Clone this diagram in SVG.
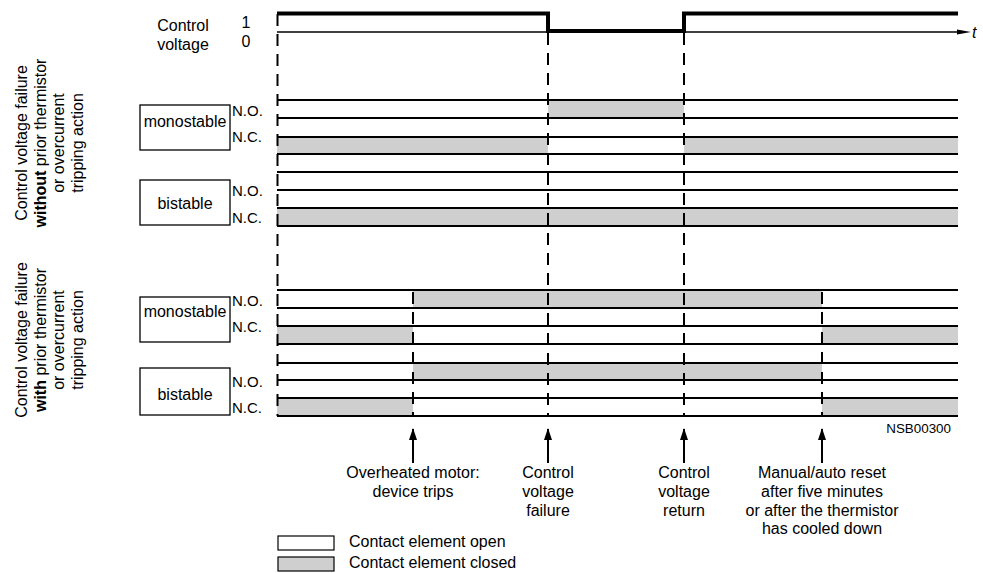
<svg xmlns="http://www.w3.org/2000/svg" width="983" height="573" viewBox="0 0 983 573">
<style>
text{font-family:"Liberation Sans",Arial,sans-serif;font-size:16px;fill:#000}
.m{text-anchor:middle}
.nn{font-size:15px}
.sm{font-size:13.4px;text-anchor:end}
.row{stroke:#000;stroke-width:2;fill:none}
.g{fill:#cfcfcf;stroke:none}
.dash{stroke:#000;stroke-width:2;stroke-dasharray:12 8;fill:none}
.box{fill:#fff;stroke:#000;stroke-width:1.3}
.arr{stroke:#000;stroke-width:2;fill:none;marker-end:url(#ah)}
</style>
<defs>
<marker id="ah" markerUnits="userSpaceOnUse" markerWidth="12" markerHeight="8" refX="11" refY="4" orient="auto" viewBox="0 0 12 8">
<path d="M0,0 L12,4 L0,8 Z" fill="#000"/>
</marker>
</defs>
<rect width="983" height="573" fill="#fff"/>

<g id="control-signal">
<text class="m" x="183" y="31">Control</text>
<text class="m" x="183" y="50">voltage</text>
<text class="m" x="246" y="28">1</text>
<text class="m" x="246" y="47">0</text>
<line x1="277" y1="32" x2="960" y2="32" stroke="#000" stroke-width="1.5"/>
<path d="M957,29.5 L971,32 L957,34.5 Z" fill="#000"/>
<text x="972" y="38" font-style="italic">t</text>
<path d="M277,13.5 H548 V31 H684 V13.5 H958" fill="none" stroke="#000" stroke-width="4"/>
</g>

<g id="fills">
<rect class="g" x="548" y="100" width="136" height="18"/>
<rect class="g" x="277" y="137" width="271" height="17"/>
<rect class="g" x="684" y="137" width="274" height="17"/>
<rect class="g" x="277" y="208" width="681" height="18"/>
<rect class="g" x="413" y="290" width="409" height="18"/>
<rect class="g" x="277" y="326" width="136" height="18"/>
<rect class="g" x="822" y="326" width="136" height="18"/>
<rect class="g" x="413" y="363" width="409" height="17"/>
<rect class="g" x="277" y="398" width="136" height="18"/>
<rect class="g" x="822" y="398" width="136" height="18"/>
</g>

<g id="rows">
<path class="row" d="M277,100H958M277,118H958M277,137H958M277,154H958M277,172H958M277,190H958M277,208H958M277,226H958"/>
<path class="row" d="M277,290H958M277,308H958M277,326H958M277,344H958M277,363H958M277,380H958M277,398H958M277,416H958"/>
</g>

<g id="connectors">
<line class="dash" x1="277.5" y1="14" x2="277.5" y2="416"/>
<line class="dash" x1="548" y1="33" x2="548" y2="416"/>
<line class="dash" x1="684" y1="33" x2="684" y2="416"/>
<line class="dash" x1="413" y1="292" x2="413" y2="416"/>
<line class="dash" x1="822" y1="292" x2="822" y2="416"/>
<line class="arr" x1="413" y1="463" x2="413" y2="429"/>
<line class="arr" x1="548" y1="463" x2="548" y2="429"/>
<line class="arr" x1="684" y1="463" x2="684" y2="429"/>
<line class="arr" x1="822" y1="463" x2="822" y2="429"/>
</g>

<g id="label-without">
<text class="m" transform="rotate(-90)" x="-143" y="27">Control voltage failure</text>
<text class="m" transform="rotate(-90)" x="-143" y="45.5"><tspan font-weight="bold">without</tspan> prior thermistor</text>
<text class="m" transform="rotate(-90)" x="-143" y="64">or overcurrent</text>
<text class="m" transform="rotate(-90)" x="-143" y="82.5">tripping action</text>
</g>
<g id="label-with">
<text class="m" transform="rotate(-90)" x="-340" y="27">Control voltage failure</text>
<text class="m" transform="rotate(-90)" x="-340" y="45.5"><tspan font-weight="bold">with</tspan> prior thermistor</text>
<text class="m" transform="rotate(-90)" x="-340" y="64">or overcurrent</text>
<text class="m" transform="rotate(-90)" x="-340" y="82.5">tripping action</text>
</g>

<g id="mono-1">
<rect class="box" x="140" y="105" width="90" height="45"/>
<text class="m" x="185" y="127">monostable</text>
<text class="nn" x="232" y="116">N.O.</text>
<text class="nn" x="232" y="142">N.C.</text>
</g>
<g id="bi-1">
<rect class="box" x="140" y="180" width="90" height="45"/>
<text class="m" x="185" y="209">bistable</text>
<text class="nn" x="232" y="196">N.O.</text>
<text class="nn" x="232" y="223">N.C.</text>
</g>
<g id="mono-2">
<rect class="box" x="140" y="297" width="90" height="45"/>
<text class="m" x="185" y="317">monostable</text>
<text class="nn" x="232" y="306">N.O.</text>
<text class="nn" x="232" y="332">N.C.</text>
</g>
<g id="bi-2">
<rect class="box" x="140" y="368" width="90" height="47"/>
<text class="m" x="185" y="400">bistable</text>
<text class="nn" x="232" y="387">N.O.</text>
<text class="nn" x="232" y="413">N.C.</text>
</g>

<g id="ref">
<text class="sm" x="951" y="433">NSB00300</text>
</g>

<g id="ev-trip">
<text class="m" x="413" y="478">Overheated motor:</text>
<text class="m" x="413" y="497">device trips</text>
</g>
<g id="ev-fail">
<text class="m" x="548" y="478">Control</text>
<text class="m" x="548" y="497">voltage</text>
<text class="m" x="548" y="516">failure</text>
</g>
<g id="ev-return">
<text class="m" x="684" y="478">Control</text>
<text class="m" x="684" y="497">voltage</text>
<text class="m" x="684" y="516">return</text>
</g>
<g id="ev-reset">
<text class="m" x="822" y="478">Manual/auto reset</text>
<text class="m" x="822" y="497">after five minutes</text>
<text class="m" x="822" y="516">or after the thermistor</text>
<text class="m" x="822" y="534">has cooled down</text>
</g>

<g id="legend">
<rect x="278" y="536" width="56" height="14" fill="#fff" stroke="#000" stroke-width="1.2"/>
<rect x="278" y="557" width="56" height="14" fill="#cfcfcf" stroke="#000" stroke-width="1.2"/>
<text x="349" y="547">Contact element open</text>
<text x="349" y="568">Contact element closed</text>
</g>
</svg>
